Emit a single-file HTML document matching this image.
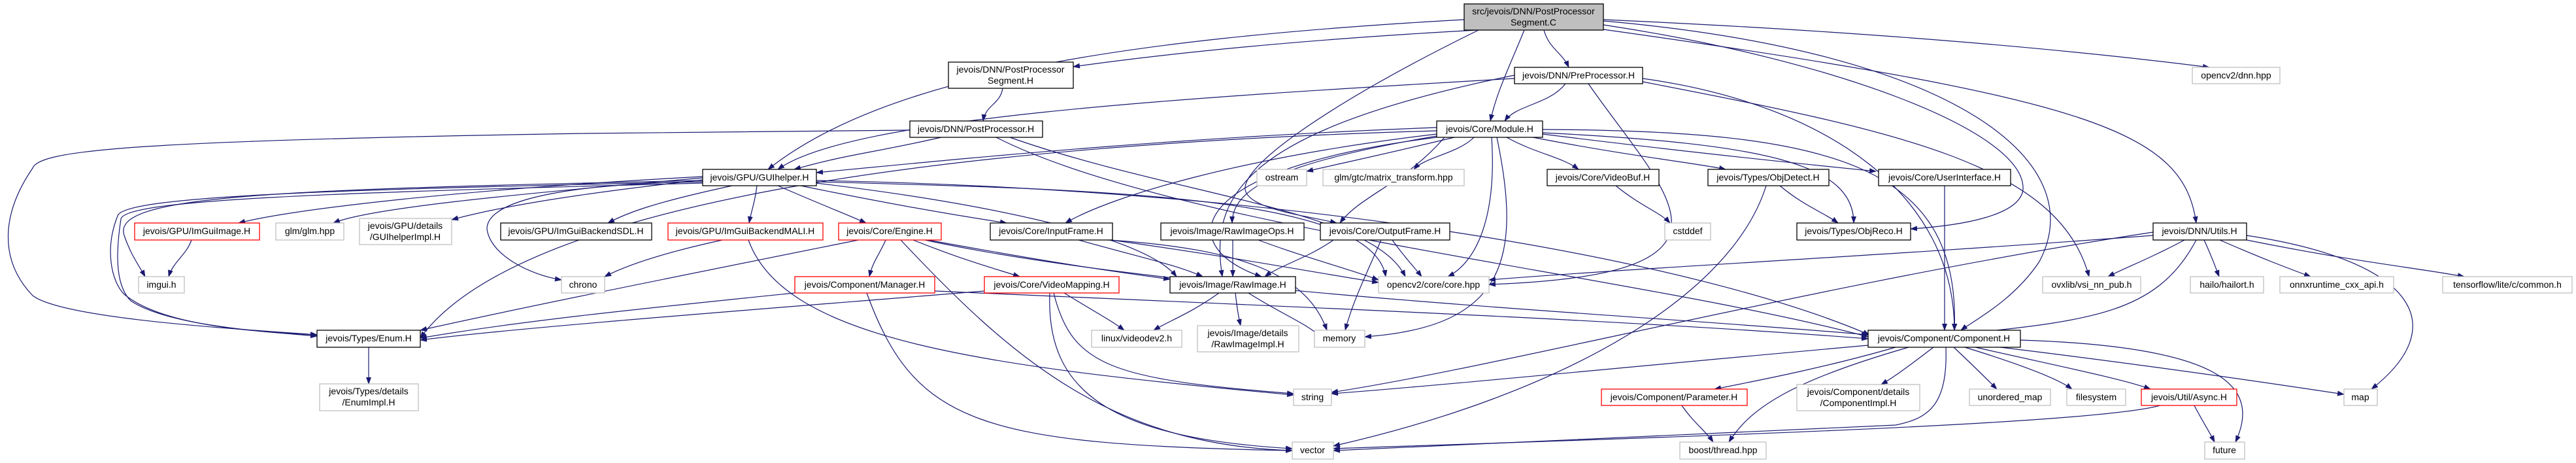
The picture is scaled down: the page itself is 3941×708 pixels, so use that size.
<!DOCTYPE html>
<html><head><meta charset="utf-8"><style>
html,body{margin:0;padding:0;background:#fff}
svg{display:block}
text{font-family:"Liberation Sans",sans-serif;font-size:14px;fill:#000}
.e{fill:none;stroke:#191970;stroke-width:1.2}
.b{fill:#fff;stroke:#000;stroke-width:1.3}
.g{fill:#fff;stroke:#bfbfbf;stroke-width:1.3}
.r{fill:#fff;stroke:#ff0000;stroke-width:1.3}
</style></head><body>
<svg width="3941" height="708" viewBox="0 0 3941 708" xmlns="http://www.w3.org/2000/svg">
<defs><marker id="a" markerWidth="11" markerHeight="8" refX="10" refY="4" orient="auto" markerUnits="userSpaceOnUse"><path d="M0,0 L11,4 L0,8 z" fill="#191970"/></marker></defs>
<g class="e" marker-end="url(#a)">
<path d="M2260,46 C2000,60 1800,80 1642,102"/>
<path d="M2240,30 C1700,60 1350,120 1175,259"/>
<path d="M2362,46 C2370,75 2390,80 2400,103"/>
<path d="M2332,46 C2310,100 2290,140 2280,185"/>
<path d="M2453,30 C2900,50 3200,80 3380,103"/>
<path d="M2453,45 C3200,150 3340,200 3360,341"/>
<path d="M2262,46 C2050,150 1900,250 1905,290 C1910,320 2000,330 2045,341"/>
<path d="M2453,38 C2800,90 3100,200 3095,290 C3090,330 3000,345 2923,350"/>
<path d="M2453,32 C3000,80 3200,250 3120,400 C3080,460 3020,490 3000,505"/>
<path d="M1534,135 C1530,160 1508,160 1504,185"/>
<path d="M1440,210 C1330,235 1300,235 1215,259"/>
<path d="M1392,199 L900,204 C200,215 60,230 50,257 C0,330 0,400 50,452 C100,490 400,505 485,512"/>
<path d="M1524,210 C1800,350 2500,420 2858,515"/>
<path d="M1545,210 C1800,300 2100,320 2150,423"/>
<path d="M2395,128 C2370,160 2320,160 2302,185"/>
<path d="M2317,120 C1800,150 1300,180 1190,259"/>
<path d="M2317,115 C1900,200 1850,300 1870,423"/>
<path d="M2430,128 C2550,300 2700,420 2278,435"/>
<path d="M2513,120 C2800,160 2990,300 2990,505"/>
<path d="M2513,125 C2900,200 3150,250 3196,423"/>
<path d="M2198,195 C1800,210 1500,240 1249,264"/>
<path d="M2198,200 C1500,220 800,300 643,517"/>
<path d="M2255,210 C2230,235 2180,240 2163,259"/>
<path d="M2225,210 C2100,240 2050,250 1999,262"/>
<path d="M2305,210 C2350,235 2390,240 2415,259"/>
<path d="M2345,210 C2500,240 2600,250 2640,259"/>
<path d="M2360,205 C2600,235 2800,255 2870,262"/>
<path d="M2360,203 C2700,220 2836,250 2836,341"/>
<path d="M2210,210 C2150,280 2080,300 2050,341"/>
<path d="M2198,205 C1900,240 1700,300 1630,341"/>
<path d="M2198,208 C1950,250 1885,290 1885,341"/>
<path d="M2198,210 C1800,260 1800,380 1930,423"/>
<path d="M2282,210 C2290,330 2260,400 2215,423"/>
<path d="M2290,210 C2330,400 2300,500 2088,515"/>
<path d="M2360,198 C2800,200 3000,250 2990,505"/>
<path d="M1075,270 C700,290 450,320 365,341"/>
<path d="M1075,272 C750,300 560,320 510,341"/>
<path d="M1075,275 C850,300 750,320 691,336"/>
<path d="M1120,284 C1000,310 960,325 930,341"/>
<path d="M1158,284 C1155,310 1150,320 1146,341"/>
<path d="M1190,284 C1250,310 1300,330 1325,341"/>
<path d="M1225,284 C1400,320 1500,335 1540,341"/>
<path d="M1075,276 C400,290 170,300 190,360 C200,390 215,410 222,423"/>
<path d="M1075,278 C900,280 745,300 745,350 C750,390 810,420 859,428"/>
<path d="M1075,278 C500,290 190,300 180,330 C160,380 170,430 190,450 C250,500 400,508 485,512"/>
<path d="M1075,280 C500,295 190,305 185,335 C175,400 180,440 200,460 C260,500 420,508 485,514"/>
<path d="M1249,276 C2000,290 2600,400 2860,512"/>
<path d="M1249,278 C1700,290 2100,300 2120,423"/>
<path d="M1249,280 C1500,310 1750,360 1800,423"/>
<path d="M293,367 C285,390 265,400 258,423"/>
<path d="M1105,367 C1000,390 950,410 925,423"/>
<path d="M1145,367 C1200,520 1500,560 1979,604"/>
<path d="M1355,367 C1345,390 1335,400 1330,423"/>
<path d="M1397,367 C1480,400 1520,410 1560,423"/>
<path d="M1420,367 C1600,400 1700,415 1790,427"/>
<path d="M1378,367 C1550,550 1700,680 1977,689"/>
<path d="M1313,367 C1000,430 800,470 643,505"/>
<path d="M1415,367 C1800,450 2500,480 2858,512"/>
<path d="M1216,448 C1000,470 800,490 643,517"/>
<path d="M1430,445 C2000,470 2500,490 2858,518"/>
<path d="M1326,448 C1400,650 1500,680 1977,689"/>
<path d="M1506,445 C1200,470 800,500 643,520"/>
<path d="M1628,448 C1680,480 1700,490 1720,505"/>
<path d="M1612,448 C1640,560 1700,580 1979,602"/>
<path d="M1606,448 C1600,600 1700,670 1977,686"/>
<path d="M1650,367 C1750,395 1800,405 1840,423"/>
<path d="M1700,367 C1900,395 2000,415 2109,432"/>
<path d="M1695,367 C1900,380 2000,420 2030,505"/>
<path d="M1886,367 L1886,423"/>
<path d="M1925,367 C2000,395 2060,410 2109,428"/>
<path d="M1865,448 C1820,480 1790,490 1765,505"/>
<path d="M1890,448 C1893,475 1895,485 1898,498"/>
<path d="M1910,448 C1960,480 2000,495 2020,515"/>
<path d="M2040,367 C2000,395 1960,405 1935,423"/>
<path d="M2130,367 C2150,395 2165,410 2175,423"/>
<path d="M2113,367 C2090,420 2070,460 2058,505"/>
<path d="M2472,284 C2510,315 2540,325 2555,341"/>
<path d="M2723,284 C2760,315 2790,325 2812,341"/>
<path d="M2702,284 C2650,450 2400,600 2040,682"/>
<path d="M2975,284 L2975,505"/>
<path d="M564,531 L564,587"/>
<path d="M2858,528 C2500,560 2200,590 2037,602"/>
<path d="M2900,531 C2800,560 2700,580 2623,595"/>
<path d="M2958,531 C2920,560 2900,575 2878,588"/>
<path d="M2920,531 C2750,580 2680,620 2645,676"/>
<path d="M2977,531 C2980,620 2950,640 2900,650 C2500,670 2200,682 2040,689"/>
<path d="M2989,531 C3020,560 3040,580 3055,595"/>
<path d="M3006,531 C3100,560 3150,580 3170,595"/>
<path d="M3022,531 C3150,560 3250,580 3290,595"/>
<path d="M3060,531 C3300,560 3500,590 3586,603"/>
<path d="M3091,520 C3400,530 3460,590 3420,676"/>
<path d="M2573,620 C2590,645 2610,660 2621,676"/>
<path d="M3357,620 C3370,645 3380,660 3388,676"/>
<path d="M3305,620 C3200,650 2500,670 2040,686"/>
<path d="M3294,360 C2900,390 2500,410 2278,428"/>
<path d="M3342,367 C3290,395 3250,410 3225,423"/>
<path d="M3372,367 C3385,395 3390,410 3395,423"/>
<path d="M3396,367 C3460,395 3500,410 3535,423"/>
<path d="M3437,367 C3600,400 3700,410 3770,423"/>
<path d="M3437,360 C3700,400 3750,500 3628,595"/>
<path d="M3360,367 C3300,480 3200,490 2990,512"/>
<path d="M3294,355 C2800,430 2300,560 2037,600"/>
</g>
<g>
<rect x="2240" y="6" width="213" height="40" fill="#bfbfbf" stroke="#000" stroke-width="1.3"/>
<text x="2346" y="22" text-anchor="middle">src/jevois/DNN/PostProcessor</text>
<text x="2346" y="39" text-anchor="middle">Segment.C</text>

<rect class="b" x="1451" y="95" width="191" height="40"/>
<text x="1546" y="111" text-anchor="middle">jevois/DNN/PostProcessor</text>
<text x="1546" y="128" text-anchor="middle">Segment.H</text>

<rect class="b" x="2317" y="103" width="196" height="25"/><text x="2415" y="120" text-anchor="middle">jevois/DNN/PreProcessor.H</text>
<rect class="g" x="3354" y="103" width="134" height="25"/><text x="3421" y="120" text-anchor="middle">opencv2/dnn.hpp</text>
<rect class="b" x="1392" y="185" width="203" height="25"/><text x="1493" y="202" text-anchor="middle">jevois/DNN/PostProcessor.H</text>
<rect class="b" x="2198" y="185" width="162" height="25"/><text x="2279" y="202" text-anchor="middle">jevois/Core/Module.H</text>

<rect class="b" x="1075" y="259" width="174" height="25"/><text x="1162" y="276" text-anchor="middle">jevois/GPU/GUIhelper.H</text>
<rect class="g" x="1923" y="259" width="76" height="25"/><text x="1961" y="276" text-anchor="middle">ostream</text>
<rect class="g" x="2024" y="259" width="216" height="25"/><text x="2132" y="276" text-anchor="middle">glm/gtc/matrix_transform.hpp</text>
<rect class="b" x="2367" y="259" width="171" height="25"/><text x="2452" y="276" text-anchor="middle">jevois/Core/VideoBuf.H</text>
<rect class="b" x="2613" y="259" width="185" height="25"/><text x="2705" y="276" text-anchor="middle">jevois/Types/ObjDetect.H</text>
<rect class="b" x="2874" y="259" width="202" height="25"/><text x="2975" y="276" text-anchor="middle">jevois/Core/UserInterface.H</text>

<rect class="r" x="206" y="341" width="191" height="26"/><text x="301" y="358" text-anchor="middle">jevois/GPU/ImGuiImage.H</text>
<rect class="g" x="422" y="341" width="104" height="26"/><text x="474" y="358" text-anchor="middle">glm/glm.hpp</text>
<rect class="g" x="550" y="334" width="141" height="40"/>
<text x="620" y="350" text-anchor="middle">jevois/GPU/details</text>
<text x="620" y="367" text-anchor="middle">/GUIhelperImpl.H</text>
<rect class="b" x="766" y="341" width="231" height="26"/><text x="881" y="358" text-anchor="middle">jevois/GPU/ImGuiBackendSDL.H</text>
<rect class="r" x="1022" y="341" width="237" height="26"/><text x="1140" y="358" text-anchor="middle">jevois/GPU/ImGuiBackendMALI.H</text>
<rect class="r" x="1283" y="341" width="157" height="26"/><text x="1361" y="358" text-anchor="middle">jevois/Core/Engine.H</text>
<rect class="b" x="1515" y="341" width="187" height="26"/><text x="1608" y="358" text-anchor="middle">jevois/Core/InputFrame.H</text>
<rect class="b" x="1776" y="341" width="219" height="26"/><text x="1885" y="358" text-anchor="middle">jevois/Image/RawImageOps.H</text>
<rect class="b" x="2020" y="341" width="198" height="26"/><text x="2119" y="358" text-anchor="middle">jevois/Core/OutputFrame.H</text>
<rect class="g" x="2547" y="341" width="70" height="26"/><text x="2582" y="358" text-anchor="middle">cstddef</text>
<rect class="b" x="2749" y="341" width="174" height="26"/><text x="2836" y="358" text-anchor="middle">jevois/Types/ObjReco.H</text>
<rect class="b" x="3294" y="341" width="143" height="26"/><text x="3365" y="358" text-anchor="middle">jevois/DNN/Utils.H</text>

<rect class="g" x="212" y="423" width="70" height="25"/><text x="247" y="440" text-anchor="middle">imgui.h</text>
<rect class="g" x="859" y="423" width="66" height="25"/><text x="892" y="440" text-anchor="middle">chrono</text>
<rect class="r" x="1216" y="423" width="214" height="25"/><text x="1323" y="440" text-anchor="middle">jevois/Component/Manager.H</text>
<rect class="r" x="1506" y="423" width="206" height="25"/><text x="1609" y="440" text-anchor="middle">jevois/Core/VideoMapping.H</text>
<rect class="b" x="1790" y="423" width="192" height="25"/><text x="1886" y="440" text-anchor="middle">jevois/Image/RawImage.H</text>
<rect class="g" x="2109" y="423" width="169" height="25"/><text x="2193" y="440" text-anchor="middle">opencv2/core/core.hpp</text>
<rect class="g" x="3125" y="423" width="150" height="25"/><text x="3200" y="440" text-anchor="middle">ovxlib/vsi_nn_pub.h</text>
<rect class="g" x="3351" y="423" width="112" height="25"/><text x="3407" y="440" text-anchor="middle">hailo/hailort.h</text>
<rect class="g" x="3488" y="423" width="174" height="25"/><text x="3575" y="440" text-anchor="middle">onnxruntime_cxx_api.h</text>
<rect class="g" x="3737" y="423" width="198" height="25"/><text x="3836" y="440" text-anchor="middle">tensorflow/lite/c/common.h</text>

<rect class="b" x="485" y="505" width="158" height="26"/><text x="564" y="522" text-anchor="middle">jevois/Types/Enum.H</text>
<rect class="g" x="1670" y="505" width="138" height="26"/><text x="1739" y="522" text-anchor="middle">linux/videodev2.h</text>
<rect class="g" x="1832" y="498" width="155" height="40"/>
<text x="1909" y="514" text-anchor="middle">jevois/Image/details</text>
<text x="1909" y="531" text-anchor="middle">/RawImageImpl.H</text>
<rect class="g" x="2011" y="505" width="77" height="26"/><text x="2049" y="522" text-anchor="middle">memory</text>
<rect class="b" x="2858" y="505" width="233" height="26"/><text x="2974" y="522" text-anchor="middle">jevois/Component/Component.H</text>

<rect class="g" x="489" y="587" width="151" height="41"/>
<text x="564" y="603" text-anchor="middle">jevois/Types/details</text>
<text x="564" y="620" text-anchor="middle">/EnumImpl.H</text>
<rect class="g" x="1979" y="595" width="58" height="25"/><text x="2008" y="612" text-anchor="middle">string</text>
<rect class="r" x="2450" y="595" width="223" height="25"/><text x="2561" y="612" text-anchor="middle">jevois/Component/Parameter.H</text>
<rect class="g" x="2749" y="588" width="188" height="40"/>
<text x="2843" y="604" text-anchor="middle">jevois/Component/details</text>
<text x="2843" y="621" text-anchor="middle">/ComponentImpl.H</text>
<rect class="g" x="3013" y="595" width="124" height="25"/><text x="3075" y="612" text-anchor="middle">unordered_map</text>
<rect class="g" x="3162" y="595" width="90" height="25"/><text x="3207" y="612" text-anchor="middle">filesystem</text>
<rect class="r" x="3276" y="595" width="146" height="25"/><text x="3349" y="612" text-anchor="middle">jevois/Util/Async.H</text>
<rect class="g" x="3586" y="595" width="51" height="25"/><text x="3611" y="612" text-anchor="middle">map</text>

<rect class="g" x="1977" y="676" width="63" height="26"/><text x="2008" y="693" text-anchor="middle">vector</text>
<rect class="g" x="2570" y="676" width="132" height="26"/><text x="2636" y="693" text-anchor="middle">boost/thread.hpp</text>
<rect class="g" x="3373" y="676" width="61" height="26"/><text x="3403" y="693" text-anchor="middle">future</text>
</g>
</svg>
</body></html>
